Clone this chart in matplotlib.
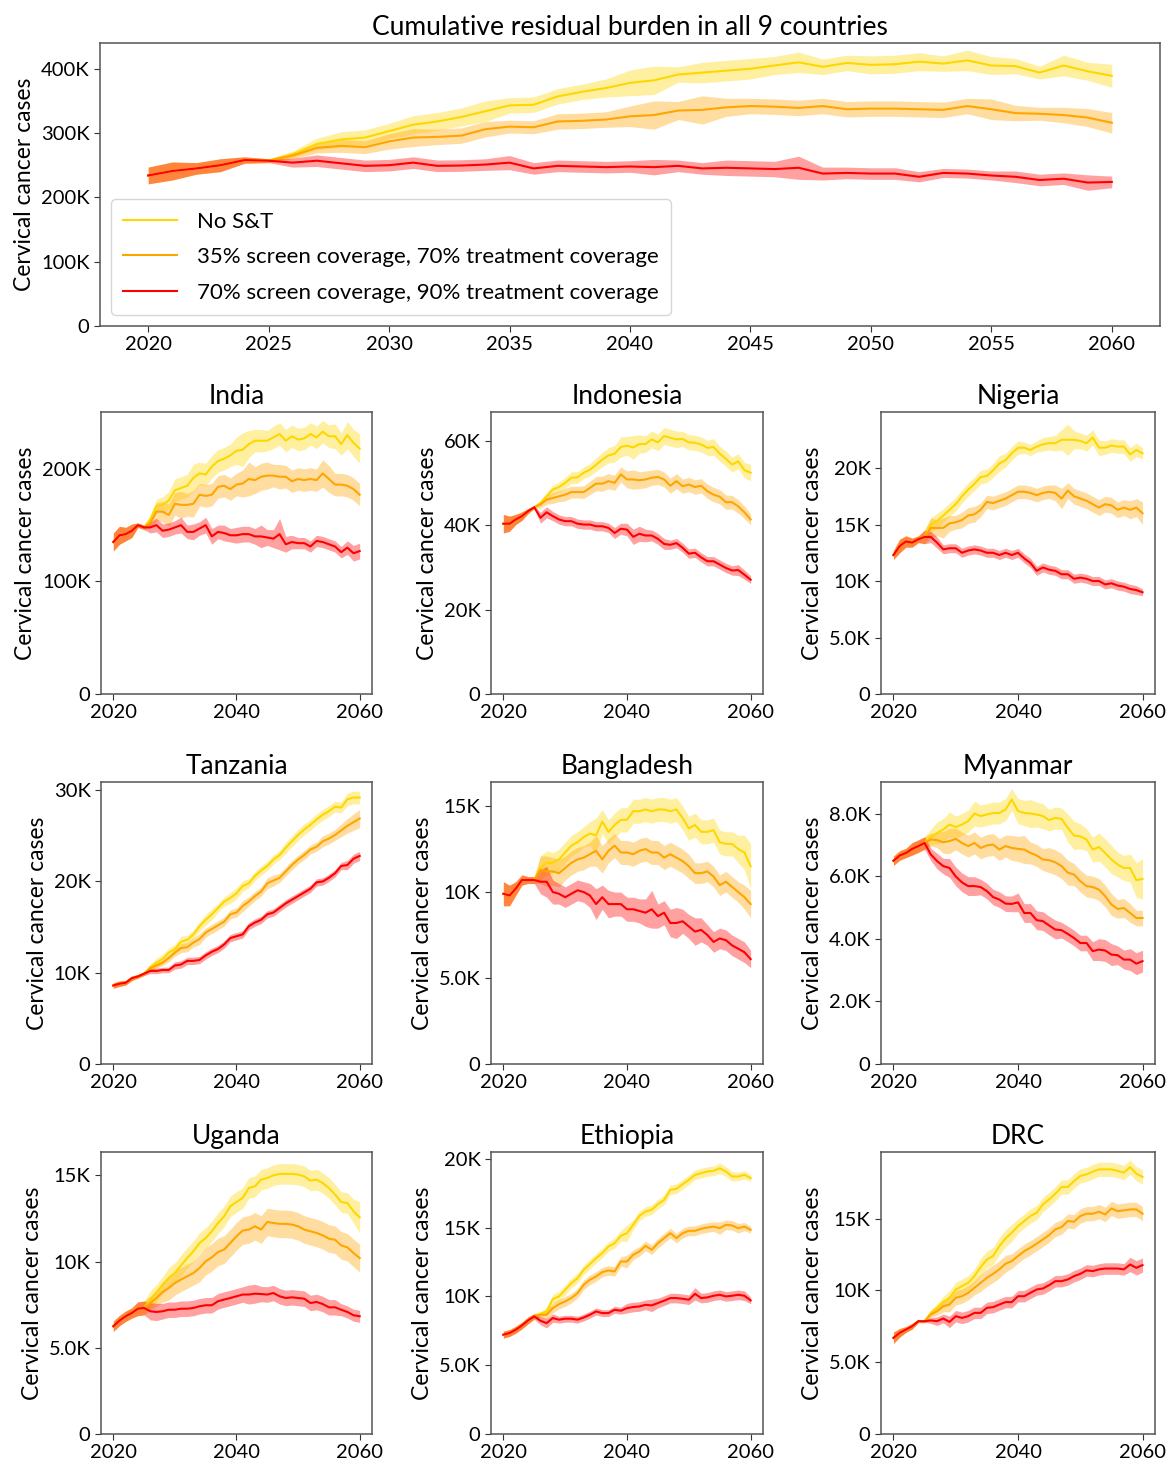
import numpy as np
import matplotlib
matplotlib.use('Agg')
import matplotlib.pyplot as plt
from matplotlib.ticker import FuncFormatter

plt.rcParams['font.family'] = ['Lato', 'DejaVu Sans']

# values in thousands of cases, yearly 2020-2060
years = np.arange(2020, 2061)
labels = ['No S&T', '35% screen coverage, 70% treatment coverage', '70% screen coverage, 90% treatment coverage']
colors = ['gold', 'orange', 'red']

# all 9 countries: shared 2020-2025, then 2026-2060 per scenario
all_base = [234, 241, 245, 250, 258, 257]
all_none = [267, 283, 290, 293, 303, 313, 318, 325, 334, 343, 344, 357, 364, 370, 378, 382, 391, 394, 397, 400,
            405, 410, 403, 409, 406, 407, 411, 408, 413, 405, 404, 394, 405, 396, 389]
all_35 = [265, 277, 280, 278, 287, 293, 294, 296, 306, 310, 309, 318, 319, 321, 326, 328, 335, 336, 340, 342,
          341, 339, 342, 337, 338, 338, 337, 336, 342, 337, 331, 330, 328, 324, 316]
all_70 = [254, 257, 253, 249, 250, 254, 249, 249.5, 251, 254, 245, 249, 248, 247, 248, 247, 249, 245, 246, 245,
          244, 246, 237, 238, 237, 237, 232, 238, 237, 234, 232, 227, 229, 223, 224]
all_base_w = [13, 14, 9, 10, 5, 3]
all_none_w = [5, 9, 12, 12, 12, 14, 14, 14, 16, 12, 12, 12, 12, 14, 20, 22, 12, 16, 16, 16, 14, 16, 12, 12, 14,
              14, 14, 12, 16, 14, 12, 10, 16, 14, 18]
all_35_w = [5, 8, 10, 10, 12, 14, 12, 12, 12, 10, 10, 12, 12, 12, 16, 22, 14, 22, 14, 12, 12, 12, 12, 12, 12, 12,
            12, 12, 12, 16, 12, 10, 12, 14, 16]
all_70_w = [7, 9, 9, 9, 9, 9, 9, 9, 9, 11, 9, 9, 9, 9, 9, 12, 9, 9, 12, 12, 12, 18, 10, 9, 9, 9, 8, 7, 7, 7, 9, 9,
            9, 12, 9]

india_base = [135, 141, 142, 145, 150, 148]
india_none = [155, 167, 168, 172, 181, 183, 185, 192, 196, 195, 202, 207, 209, 212, 216, 217, 222, 225, 225, 225,
              228, 231, 225, 229, 226, 227, 231, 228, 233, 229, 229, 222, 230, 223, 218]
india_35 = [152, 162, 162, 159, 169, 168, 168, 169, 177, 176, 177, 184, 185, 182, 186, 187, 191, 190, 193, 194,
            194, 193, 193, 189, 191, 190, 191, 190, 196, 191, 186, 186, 185, 182, 177]
india_70 = [148, 150, 145, 146, 148, 150, 144, 144, 147, 150, 140, 144, 143, 141, 141, 142, 142, 140, 140, 139,
            138, 142, 133, 135, 134, 134, 131, 136, 135, 133, 131, 126, 130, 125, 127]
india_base_w = [8, 8, 6, 6, 2, 2]
india_none_w = [4, 6, 7, 8, 10, 10, 10, 12, 10, 10, 10, 10, 10, 10, 12, 15, 12, 10, 10, 9, 10, 10, 10, 10, 10, 10,
                10, 10, 10, 10, 11, 10, 12, 12, 13]
india_35_w = [4, 8, 9, 10, 10, 12, 10, 12, 10, 10, 10, 10, 10, 10, 10, 12, 15, 12, 12, 12, 10, 11, 10, 10, 10, 10,
              10, 10, 12, 12, 10, 10, 10, 10, 10]
india_70_w = [5, 6, 6, 6, 6, 7, 6, 7, 6, 7, 7, 6, 7, 6, 7, 7, 7, 7, 10, 7, 8, 14, 7, 6, 5, 5, 5, 5, 5, 5, 5, 5, 6,
              7, 7]

indonesia_base = [40.4, 40.4, 41.4, 42.2, 43.4, 44.3]
indonesia_none = [45.3, 46.9, 48.5, 49.1, 50.1, 51.3, 51.4, 52.5, 53.2, 54.4, 55.6, 56.6, 57.0, 58.6, 58.9, 58.5,
                  59.3, 59.3, 60.4, 59.7, 61.2, 60.8, 60.4, 60.5, 59.7, 59.6, 59.2, 58.4, 58.6, 57.0, 55.8, 54.4,
                  55.2, 53.1, 52.5]
indonesia_35 = [45.0, 46.1, 46.5, 46.9, 47.3, 47.9, 47.9, 47.9, 48.9, 49.9, 49.9, 50.5, 50.1, 52.1, 50.9, 50.9,
                50.7, 50.9, 51.3, 51.5, 50.9, 49.4, 50.5, 49.3, 49.7, 49.1, 49.4, 48.1, 47.3, 46.8, 45.5, 45.5,
                44.5, 43.1, 41.4]
indonesia_70 = [41.8, 43.1, 42.2, 41.4, 41.0, 41.0, 40.4, 40.2, 40.2, 39.8, 39.8, 39.4, 38.2, 39.2, 39.0, 37.3,
                38.0, 37.6, 37.6, 36.8, 35.6, 35.4, 35.8, 34.7, 33.3, 33.5, 32.4, 31.5, 31.5, 30.7, 29.9, 29.3,
                29.4, 28.3, 27.1]
indonesia_base_w = [2.2, 1.8, 1.2, 1.0, 0.6, 0.3]
indonesia_none_w = [0.6, 0.9, 1.1, 1.2, 1.3, 1.4, 1.4, 1.4, 1.5, 1.6, 1.7, 1.8, 2.0, 2.4, 2.2, 2.8, 2.2, 2.0, 2.0,
                    2.0, 2.0, 2.0, 2.0, 1.8, 1.8, 1.8, 1.8, 1.8, 2.0, 1.8, 1.8, 1.8, 1.8, 1.8, 2.0]
indonesia_35_w = [0.9, 1.1, 1.3, 1.3, 1.5, 1.4, 1.4, 1.5, 1.6, 1.7, 1.8, 1.8, 1.8, 1.8, 2.0, 2.3, 2.0, 2.0, 1.8,
                  1.8, 1.8, 1.8, 1.8, 1.7, 1.7, 1.7, 1.7, 1.7, 1.7, 1.7, 1.7, 1.6, 1.6, 1.5, 1.3]
indonesia_70_w = [1.3, 1.3, 1.1, 1.1, 1.1, 1.1, 1.1, 1.1, 1.1, 1.1, 1.1, 1.1, 1.3, 1.3, 1.5, 1.8, 1.8, 1.5, 1.3,
                  1.3, 1.3, 1.1, 1.1, 1.1, 1.1, 1.1, 1.1, 1.1, 1.1, 1.1, 1.1, 1.1, 1.3, 1.1, 0.9]

nigeria_base = [12.3, 13.1, 13.5, 13.4, 13.7, 13.9]
nigeria_none = [15.0, 15.3, 15.8, 16.3, 16.8, 17.5, 18.1, 18.6, 19.2, 19.3, 19.8, 20.4, 20.7, 21.3, 21.8, 21.8,
                21.6, 21.9, 22.1, 22.2, 22.2, 22.5, 22.5, 22.5, 22.4, 22.2, 22.7, 21.8, 21.8, 22.0, 21.9, 21.9,
                21.2, 21.6, 21.3]
nigeria_35 = [14.7, 14.7, 14.7, 15.1, 15.2, 15.4, 15.8, 15.9, 16.3, 17.0, 16.9, 17.1, 17.3, 17.6, 17.9, 17.9,
              17.8, 17.6, 17.8, 17.9, 17.8, 17.3, 18.0, 17.5, 17.3, 17.1, 16.8, 16.5, 16.8, 16.7, 16.3, 16.5,
              16.3, 16.5, 16.0]
nigeria_70 = [13.9, 13.4, 12.8, 12.9, 12.9, 12.5, 12.7, 12.8, 12.7, 12.5, 12.5, 12.3, 12.5, 12.3, 12.5, 12.0,
              11.6, 10.9, 11.2, 11.0, 10.9, 10.6, 10.6, 10.2, 10.3, 10.2, 10.0, 10.0, 9.7, 9.8, 9.6, 9.5, 9.3,
              9.2, 9.0]
nigeria_base_w = [0.4, 0.6, 0.5, 0.4, 0.3, 0.6]
nigeria_none_w = [0.6, 0.7, 0.6, 0.6, 0.6, 0.6, 0.6, 0.6, 0.6, 0.6, 0.6, 0.7, 0.6, 0.6, 0.6, 0.5, 0.5, 0.5, 0.6,
                  0.6, 0.7, 0.9, 1.4, 0.8, 0.7, 0.7, 0.7, 0.7, 0.6, 0.6, 0.6, 0.6, 0.6, 0.6, 0.5]
nigeria_35_w = [0.9, 0.7, 0.9, 0.7, 0.6, 0.7, 0.7, 0.7, 0.6, 0.6, 0.6, 0.6, 0.6, 0.6, 0.6, 0.6, 0.6, 0.6, 0.6, 0.6,
                0.7, 0.9, 0.7, 0.7, 0.7, 0.7, 0.7, 0.7, 0.7, 0.7, 0.7, 0.7, 0.8, 0.8, 1.0]
nigeria_70_w = [0.5, 0.5, 0.4, 0.4, 0.4, 0.4, 0.4, 0.4, 0.4, 0.4, 0.4, 0.4, 0.4, 0.4, 0.4, 0.4, 0.4, 0.4, 0.4, 0.4,
                0.4, 0.4, 0.4, 0.4, 0.4, 0.4, 0.4, 0.4, 0.4, 0.4, 0.4, 0.4, 0.4, 0.4, 0.3]

tanzania_base = [8.6, 8.8, 8.9, 9.4, 9.6, 9.9]
tanzania_none = [10.6, 11.1, 11.5, 12.2, 12.6, 13.4, 13.6, 14.2, 15.1, 15.8, 16.4, 17.1, 17.8, 18.2, 18.7, 19.5,
                 19.8, 20.6, 21.2, 21.7, 22.4, 22.9, 23.7, 24.4, 25.1, 25.7, 26.2, 26.8, 27.3, 27.7, 28.2, 28.1,
                 29.0, 29.2, 29.2]
tanzania_35 = [10.5, 10.8, 11.1, 11.6, 12.2, 12.7, 12.8, 13.3, 13.7, 14.4, 14.8, 15.2, 15.6, 16.4, 16.6, 17.3,
               17.8, 18.4, 18.9, 19.8, 20.1, 20.4, 21.1, 21.8, 22.4, 22.9, 23.5, 23.8, 24.4, 24.7, 25.1, 25.6,
               26.1, 26.5, 26.9]
tanzania_70 = [10.2, 10.2, 10.3, 10.3, 10.8, 10.9, 11.3, 11.3, 11.4, 11.9, 12.3, 12.6, 13.1, 13.8, 14.0, 14.2,
               15.1, 15.5, 15.8, 16.4, 16.6, 17.1, 17.6, 18.0, 18.4, 18.8, 19.2, 19.9, 20.0, 20.4, 20.9, 21.7,
               21.8, 22.5, 22.8]
tanzania_base_w = [0.3, 0.3, 0.25, 0.25, 0.2, 0.2]
tanzania_none_w = [0.4, 0.5, 0.5, 0.5, 0.5, 0.6, 0.5, 0.5, 0.5, 0.6, 0.6, 0.5, 0.5, 0.6, 0.6, 0.6, 0.5, 0.5, 0.5,
                   0.5, 0.5, 0.5, 0.6, 0.6, 0.6, 0.6, 0.6, 0.6, 0.6, 0.6, 0.6, 0.6, 0.7, 0.7, 0.7]
tanzania_35_w = [0.3, 0.3, 0.3, 0.4, 0.4, 0.5, 0.5, 0.5, 0.6, 0.5, 0.5, 0.5, 0.5, 0.5, 0.5, 0.6, 0.5, 0.5, 0.5,
                 0.6, 0.6, 0.5, 0.5, 0.5, 0.5, 0.5, 0.5, 0.5, 0.6, 0.6, 0.6, 0.7, 0.8, 0.9, 1.0]
tanzania_70_w = [0.3, 0.3, 0.3, 0.3, 0.4, 0.4, 0.4, 0.4, 0.4, 0.4, 0.4, 0.4, 0.4, 0.4, 0.4, 0.4, 0.4, 0.4, 0.4,
                 0.4, 0.4, 0.4, 0.4, 0.4, 0.4, 0.4, 0.4, 0.4, 0.4, 0.4, 0.4, 0.4, 0.5, 0.5, 0.5]

bangladesh_base = [9.9, 9.8, 10.2, 10.7, 10.7, 10.7]
bangladesh_none = [11.4, 11.7, 11.7, 11.9, 12.3, 12.7, 12.9, 13.2, 13.4, 13.3, 14.1, 13.5, 13.9, 14.2, 14.2, 14.7,
                   14.7, 14.8, 14.7, 14.8, 14.8, 14.7, 14.8, 14.3, 13.7, 13.9, 13.5, 13.5, 13.6, 12.9, 12.8, 12.8,
                   12.5, 12.3, 11.5]
bangladesh_35 = [11.3, 11.2, 11.2, 11.1, 11.4, 11.7, 11.9, 12.0, 12.2, 12.4, 11.9, 12.4, 12.7, 12.3, 12.3, 12.2,
                 12.4, 12.5, 12.3, 12.3, 12.0, 12.2, 12.0, 11.8, 11.5, 11.1, 11.1, 11.2, 10.9, 10.4, 10.6, 10.3,
                 10.0, 9.7, 9.3]
bangladesh_70 = [10.6, 10.6, 10.0, 9.9, 9.7, 9.9, 10.1, 10.0, 9.8, 9.3, 9.7, 9.3, 9.3, 9.3, 9.0, 9.0, 8.9, 8.8,
                 9.0, 8.6, 8.8, 8.2, 8.2, 8.3, 8.0, 7.7, 7.8, 7.5, 7.1, 7.3, 7.2, 6.9, 6.7, 6.5, 6.1]
bangladesh_base_w = [0.7, 0.6, 0.4, 0.3, 0.2, 0.2]
bangladesh_none_w = [0.7, 0.7, 0.6, 0.6, 0.6, 0.6, 0.6, 0.6, 0.7, 1.0, 0.7, 0.7, 0.7, 0.7, 0.7, 0.7, 0.7, 0.7,
                     0.7, 0.7, 0.7, 0.7, 0.7, 0.7, 0.7, 0.7, 0.7, 0.7, 0.7, 0.7, 0.7, 0.7, 0.8, 1.0, 1.3]
bangladesh_35_w = [0.8, 0.9, 0.8, 0.8, 0.7, 0.7, 0.7, 0.7, 0.7, 0.9, 0.8, 0.7, 0.7, 0.7, 0.7, 0.7, 0.7, 0.7, 0.7,
                   0.7, 0.7, 0.7, 0.7, 0.7, 0.7, 0.6, 0.6, 0.6, 0.6, 0.6, 0.6, 0.6, 0.6, 0.7, 0.8]
bangladesh_70_w = [0.7, 0.9, 0.7, 0.6, 0.6, 0.6, 0.6, 0.6, 0.7, 0.9, 0.7, 0.8, 0.7, 0.7, 0.7, 0.7, 0.7, 0.8, 1.1,
                   0.7, 0.7, 0.8, 0.9, 0.7, 0.7, 0.8, 0.7, 0.6, 0.6, 0.6, 0.6, 0.6, 0.6, 0.6, 0.5]

myanmar_base = [6.5, 6.67, 6.75, 6.88, 6.97, 7.07]
myanmar_none = [7.26, 7.39, 7.5, 7.66, 7.58, 7.66, 7.77, 8.01, 7.93, 7.98, 8.03, 8.03, 8.14, 8.46, 8.09, 8.03,
                8.01, 7.98, 7.93, 7.8, 7.87, 7.84, 7.55, 7.31, 7.28, 7.18, 6.86, 6.94, 6.75, 6.54, 6.38, 6.27,
                6.27, 5.88, 5.92]
myanmar_35 = [7.18, 7.16, 7.09, 7.13, 7.2, 7.07, 6.97, 7.07, 6.91, 6.99, 7.02, 6.86, 6.97, 6.91, 6.88, 6.86, 6.75,
              6.67, 6.54, 6.52, 6.45, 6.33, 6.12, 6.06, 5.85, 5.69, 5.66, 5.58, 5.37, 5.1, 4.96, 4.99, 4.83, 4.67,
              4.67]
myanmar_70 = [6.7, 6.49, 6.33, 6.27, 6.0, 5.81, 5.69, 5.69, 5.66, 5.53, 5.34, 5.26, 5.13, 5.12, 5.17, 4.83, 4.83,
              4.6, 4.57, 4.43, 4.3, 4.28, 4.16, 4.03, 3.87, 3.87, 3.61, 3.66, 3.63, 3.5, 3.48, 3.34, 3.34, 3.21,
              3.29]
myanmar_base_w = [0.15, 0.15, 0.15, 0.2, 0.2, 0.2]
myanmar_none_w = [0.25, 0.35, 0.35, 0.4, 0.35, 0.35, 0.35, 0.4, 0.35, 0.35, 0.35, 0.35, 0.35, 0.35, 0.4, 0.4, 0.45,
                  0.4, 0.4, 0.35, 0.35, 0.35, 0.45, 0.45, 0.4, 0.35, 0.4, 0.45, 0.45, 0.45, 0.4, 0.4, 0.45, 0.55,
                  0.65]
myanmar_35_w = [0.2, 0.25, 0.35, 0.4, 0.35, 0.35, 0.35, 0.35, 0.35, 0.35, 0.35, 0.35, 0.35, 0.4, 0.4, 0.45, 0.35,
                0.35, 0.35, 0.4, 0.4, 0.4, 0.4, 0.35, 0.35, 0.35, 0.35, 0.35, 0.35, 0.35, 0.3, 0.3, 0.3, 0.25, 0.25]
myanmar_70_w = [0.2, 0.25, 0.25, 0.3, 0.3, 0.3, 0.3, 0.3, 0.25, 0.25, 0.25, 0.25, 0.25, 0.25, 0.3, 0.3, 0.3, 0.3,
                0.3, 0.3, 0.3, 0.25, 0.25, 0.25, 0.25, 0.25, 0.3, 0.35, 0.35, 0.35, 0.3, 0.3, 0.35, 0.35, 0.35]

uganda_base = [6.25, 6.58, 6.83, 7.02, 7.27, 7.31]
uganda_none = [7.8, 8.18, 8.63, 9.05, 9.34, 9.79, 10.21, 10.6, 11.08, 11.37, 11.76, 12.24, 12.63, 13.21, 13.46,
               13.69, 14.27, 14.37, 14.76, 14.85, 15.01, 15.09, 15.09, 15.09, 15.05, 14.95, 14.7, 14.76, 14.56,
               14.27, 13.89, 13.46, 13.4, 12.92, 12.57]
uganda_35 = [7.6, 7.89, 8.24, 8.47, 8.76, 8.96, 9.15, 9.34, 9.63, 10.02, 10.25, 10.56, 10.7, 11.08, 11.47, 11.8,
             11.86, 12.05, 11.86, 12.3, 12.24, 12.19, 12.19, 12.15, 12.05, 11.86, 11.76, 11.66, 11.53, 11.33,
             11.27, 10.94, 10.83, 10.5, 10.21]
uganda_70 = [7.12, 7.08, 7.12, 7.21, 7.21, 7.27, 7.27, 7.31, 7.41, 7.47, 7.47, 7.7, 7.8, 7.89, 7.99, 8.09, 8.09,
             8.14, 8.12, 8.09, 8.18, 7.99, 7.89, 7.93, 7.89, 7.85, 7.6, 7.66, 7.54, 7.35, 7.35, 7.21, 7.08, 6.89,
             6.83]
uganda_base_w = [0.3, 0.3, 0.3, 0.3, 0.4, 0.4]
uganda_none_w = [0.5, 0.5, 0.5, 0.6, 0.6, 0.6, 0.6, 0.6, 0.6, 0.6, 0.6, 0.6, 0.6, 0.6, 0.6, 0.6, 0.6, 0.6, 0.6,
                 0.6, 0.6, 0.6, 0.6, 0.6, 0.6, 0.6, 0.6, 0.6, 0.6, 0.6, 0.6, 0.6, 0.6, 0.7, 0.9]
uganda_35_w = [0.4, 0.5, 0.6, 0.7, 0.7, 0.7, 0.7, 0.7, 0.8, 0.8, 0.8, 0.8, 0.8, 0.8, 0.8, 0.8, 0.8, 0.8, 0.8, 0.8,
               0.8, 0.8, 0.8, 0.8, 0.8, 0.8, 0.8, 0.8, 0.8, 0.8, 0.8, 0.8, 0.8, 0.8, 0.8]
uganda_70_w = [0.5, 0.5, 0.45, 0.45, 0.45, 0.45, 0.45, 0.45, 0.45, 0.45, 0.45, 0.45, 0.45, 0.45, 0.45, 0.45, 0.55,
               0.55, 0.45, 0.45, 0.45, 0.45, 0.45, 0.45, 0.45, 0.45, 0.45, 0.45, 0.45, 0.45, 0.45, 0.35, 0.35, 0.35,
               0.35]

ethiopia_base = [7.22, 7.34, 7.58, 7.89, 8.26, 8.55]
ethiopia_none = [8.72, 8.91, 9.81, 10.0, 10.48, 10.97, 11.33, 11.94, 12.35, 12.78, 13.15, 13.63, 13.87, 14.41,
                 14.6, 15.21, 15.86, 16.17, 16.3, 16.71, 17.02, 17.75, 17.82, 18.16, 18.47, 18.84, 18.96, 19.08,
                 19.13, 19.32, 19.08, 18.72, 18.72, 18.84, 18.6]
ethiopia_35 = [8.67, 8.67, 9.15, 9.44, 9.64, 9.88, 10.24, 10.85, 11.21, 11.45, 11.77, 11.89, 11.82, 12.54, 12.54,
               13.03, 13.27, 13.68, 13.39, 13.87, 14.24, 14.6, 14.24, 14.6, 14.77, 14.77, 14.92, 15.01, 15.08,
               14.96, 15.21, 15.16, 14.96, 15.08, 14.84]
ethiopia_70 = [8.23, 8.06, 8.43, 8.31, 8.38, 8.38, 8.31, 8.47, 8.67, 8.91, 8.79, 8.79, 9.03, 8.96, 9.15, 9.23,
               9.27, 9.39, 9.35, 9.52, 9.69, 9.88, 9.88, 9.83, 9.76, 10.19, 9.88, 9.93, 10.05, 10.12, 10.0, 10.05,
               10.12, 10.05, 9.71]
ethiopia_base_w = [0.25, 0.25, 0.25, 0.25, 0.25, 0.2]
ethiopia_none_w = [0.2, 0.3, 0.35, 0.35, 0.35, 0.35, 0.35, 0.35, 0.35, 0.35, 0.35, 0.35, 0.35, 0.4, 0.6, 0.35,
                   0.35, 0.35, 0.35, 0.35, 0.35, 0.35, 0.35, 0.35, 0.35, 0.35, 0.35, 0.35, 0.35, 0.4, 0.35, 0.35,
                   0.3, 0.3, 0.25]
ethiopia_35_w = [0.2, 0.3, 0.35, 0.35, 0.35, 0.35, 0.35, 0.35, 0.35, 0.35, 0.35, 0.35, 0.35, 0.35, 0.45, 0.35,
                 0.35, 0.35, 0.35, 0.35, 0.35, 0.35, 0.35, 0.35, 0.35, 0.35, 0.35, 0.35, 0.35, 0.45, 0.35, 0.35,
                 0.35, 0.3, 0.25]
ethiopia_70_w = [0.3, 0.35, 0.3, 0.25, 0.25, 0.25, 0.25, 0.25, 0.25, 0.25, 0.25, 0.25, 0.25, 0.25, 0.35, 0.35,
                 0.35, 0.35, 0.45, 0.35, 0.35, 0.35, 0.35, 0.35, 0.35, 0.45, 0.35, 0.35, 0.35, 0.35, 0.35, 0.35,
                 0.35, 0.35, 0.25]

drc_base = [6.7, 7.05, 7.28, 7.51, 7.86, 7.86]
drc_none = [8.44, 8.79, 9.21, 9.49, 10.07, 10.3, 10.53, 11.0, 11.63, 12.16, 12.4, 13.09, 13.63, 14.02, 14.49,
            14.84, 15.19, 15.42, 16.0, 16.35, 16.74, 17.21, 17.21, 17.63, 17.98, 18.09, 18.28, 18.44, 18.44, 18.44,
            18.33, 18.21, 18.6, 18.14, 17.91]
drc_35 = [8.33, 8.56, 8.91, 9.02, 9.49, 9.6, 9.84, 10.19, 10.53, 10.88, 11.16, 11.47, 11.86, 12.05, 12.4, 12.74,
          12.98, 13.26, 13.56, 13.86, 14.26, 14.42, 14.84, 14.79, 15.19, 15.35, 15.35, 15.49, 15.3, 15.72, 15.53,
          15.58, 15.65, 15.65, 15.35]
drc_70 = [7.91, 7.86, 8.05, 7.81, 8.21, 8.09, 8.21, 8.44, 8.44, 8.79, 8.84, 9.02, 9.19, 9.19, 9.6, 9.6, 9.84,
          10.07, 10.14, 10.37, 10.65, 10.65, 10.77, 11.0, 11.16, 11.4, 11.35, 11.47, 11.53, 11.53, 11.53, 11.47,
          11.81, 11.58, 11.77]
drc_base_w = [0.4, 0.3, 0.2, 0.2, 0.1, 0.1]
drc_none_w = [0.2, 0.3, 0.4, 0.5, 0.5, 0.5, 0.5, 0.5, 0.6, 0.6, 0.6, 0.6, 0.6, 0.6, 0.5, 0.5, 0.5, 0.5, 0.5, 0.5,
              0.5, 0.5, 0.5, 0.5, 0.5, 0.5, 0.5, 0.5, 0.5, 0.5, 0.5, 0.5, 0.5, 0.5, 0.5]
drc_35_w = [0.2, 0.3, 0.4, 0.5, 0.5, 0.5, 0.5, 0.5, 0.6, 0.6, 0.6, 0.6, 0.6, 0.5, 0.5, 0.5, 0.5, 0.5, 0.5, 0.5,
            0.5, 0.5, 0.5, 0.5, 0.5, 0.5, 0.5, 0.5, 0.5, 0.5, 0.5, 0.5, 0.5, 0.5, 0.5]
drc_70_w = [0.2, 0.3, 0.3, 0.4, 0.4, 0.4, 0.4, 0.4, 0.4, 0.4, 0.4, 0.4, 0.4, 0.4, 0.4, 0.4, 0.4, 0.4, 0.4, 0.4,
            0.4, 0.4, 0.4, 0.4, 0.4, 0.4, 0.4, 0.4, 0.4, 0.4, 0.4, 0.4, 0.5, 0.5, 0.5]

countries = ['India', 'Indonesia', 'Nigeria', 'Tanzania', 'Bangladesh', 'Myanmar', 'Uganda', 'Ethiopia', 'DRC']
yticks = [[0, 100, 200], [0, 20, 40, 60], [0, 5, 10, 15, 20], [0, 10, 20, 30], [0, 5, 10, 15],
          [0, 2, 4, 6, 8], [0, 5, 10, 15], [0, 5, 10, 15, 20], [0, 5, 10, 15]]
ytops = [250.5, 66.9, 24.96, 30.9, 16.4, 9.02, 16.36, 20.5, 19.65]

country_data = [
    (india_base, [india_none, india_35, india_70], india_base_w, [india_none_w, india_35_w, india_70_w]),
    (indonesia_base, [indonesia_none, indonesia_35, indonesia_70], indonesia_base_w,
     [indonesia_none_w, indonesia_35_w, indonesia_70_w]),
    (nigeria_base, [nigeria_none, nigeria_35, nigeria_70], nigeria_base_w,
     [nigeria_none_w, nigeria_35_w, nigeria_70_w]),
    (tanzania_base, [tanzania_none, tanzania_35, tanzania_70], tanzania_base_w,
     [tanzania_none_w, tanzania_35_w, tanzania_70_w]),
    (bangladesh_base, [bangladesh_none, bangladesh_35, bangladesh_70], bangladesh_base_w,
     [bangladesh_none_w, bangladesh_35_w, bangladesh_70_w]),
    (myanmar_base, [myanmar_none, myanmar_35, myanmar_70], myanmar_base_w,
     [myanmar_none_w, myanmar_35_w, myanmar_70_w]),
    (uganda_base, [uganda_none, uganda_35, uganda_70], uganda_base_w, [uganda_none_w, uganda_35_w, uganda_70_w]),
    (ethiopia_base, [ethiopia_none, ethiopia_35, ethiopia_70], ethiopia_base_w,
     [ethiopia_none_w, ethiopia_35_w, ethiopia_70_w]),
    (drc_base, [drc_none, drc_35, drc_70], drc_base_w, [drc_none_w, drc_35_w, drc_70_w]),
]

W, H = 1167, 1459


def box(left, top, right, bottom):
    return [left / W, 1 - bottom / H, (right - left) / W, (bottom - top) / H]


def kfmt(v, pos):
    if abs(v) < 1e-9:
        return '0'
    if abs(v) >= 10:
        return f'{v:.0f}K'
    return f'{v:.1f}K'


def draw(ax, base, series, base_w, widths):
    for vals, w, color, label in zip(series, widths, colors, labels):
        y = np.array(base + vals, dtype=float)
        hw = np.array(base_w + w, dtype=float)
        ax.fill_between(years, y - hw, y + hw, color=color, alpha=0.37, linewidth=0)
        ax.plot(years, y, color=color, linewidth=1.5, label=label)


def style(ax, tick_size):
    for sp in ax.spines.values():
        sp.set_color('#555555')
        sp.set_linewidth(1.1)
    ax.tick_params(labelsize=tick_size, color='#333333', length=4)
    ax.yaxis.set_major_formatter(FuncFormatter(kfmt))
    ax.set_ylabel('Cervical cancer cases', fontsize=16.5)


fig = plt.figure(figsize=(W / 100, H / 100), dpi=100)

ax = fig.add_axes(box(100, 43, 1160, 326))
draw(ax, all_base, [all_none, all_35, all_70], all_base_w, [all_none_w, all_35_w, all_70_w])
ax.set_ylim(0, 440)
ax.set_xticks(range(2020, 2061, 5))
ax.set_yticks([0, 100, 200, 300, 400])
style(ax, 14.5)
ax.set_title('Cumulative residual burden in all 9 countries', fontsize=19)
ax.legend(loc='lower left', fontsize=16, labelspacing=0.7, handlelength=2.4, handletextpad=0.9,
          borderpad=0.55, framealpha=0.8)

cols = [(101, 372), (491, 763), (881, 1155)]
rows = [(412, 694), (782, 1064), (1152, 1434)]
for i, name in enumerate(countries):
    l, r = cols[i % 3]
    t, b = rows[i // 3]
    ax = fig.add_axes(box(l, t, r, b))
    base, series, base_w, widths = country_data[i]
    draw(ax, base, series, base_w, widths)
    ax.set_ylim(0, ytops[i])
    ax.set_xticks([2020, 2040, 2060])
    ax.set_yticks(yticks[i])
    style(ax, 14.5)
    ax.set_title(name, fontsize=19)

fig.savefig('out.png', dpi=100)
